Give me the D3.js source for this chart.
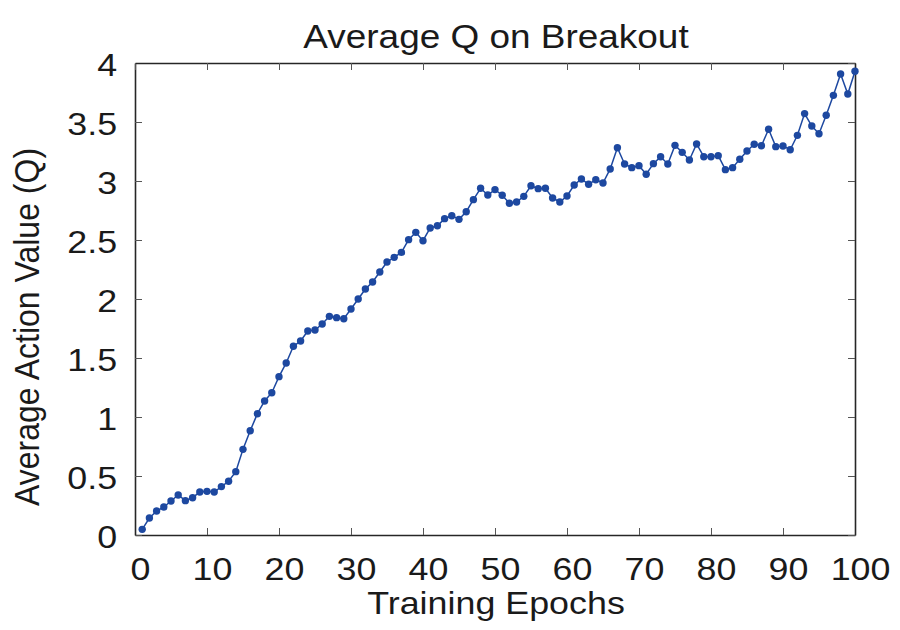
<!DOCTYPE html>
<html>
<head>
<meta charset="utf-8">
<script src="https://cdn.jsdelivr.net/npm/d3@7"></script>
<style>
  body { margin: 0; background: #fff; }
  text { font-family: "Liberation Sans", Arial, sans-serif; fill: #1a1a1a; }
</style>
</head>
<body>
<div id="chart"></div>
<script>
// average Q per training epoch (epochs 1..100)
var avgQ = [
    0.048, 0.144, 0.203, 0.237, 0.288, 0.339, 0.291, 0.316, 0.364, 0.370,
    0.364, 0.410, 0.455, 0.537, 0.726, 0.884, 1.028, 1.136, 1.206, 1.342,
    1.458, 1.599, 1.644, 1.729, 1.737, 1.788, 1.853, 1.842, 1.833, 1.915,
    2.000, 2.085, 2.144, 2.229, 2.314, 2.353, 2.395, 2.503, 2.565, 2.494,
    2.602, 2.621, 2.681, 2.706, 2.675, 2.740, 2.842, 2.938, 2.881, 2.927,
    2.879, 2.811, 2.822, 2.870, 2.960, 2.935, 2.938, 2.856, 2.822, 2.873,
    2.966, 3.017, 2.972, 3.011, 2.983, 3.102, 3.282, 3.144, 3.113, 3.130,
    3.057, 3.147, 3.206, 3.144, 3.302, 3.243, 3.178, 3.314, 3.206, 3.206,
    3.215, 3.096, 3.113, 3.184, 3.254, 3.311, 3.299, 3.438, 3.291, 3.297,
    3.265, 3.387, 3.571, 3.466, 3.401, 3.557, 3.726, 3.907, 3.737, 3.930
];
var epochs = d3.range(1, avgQ.length + 1);
var xTicks = [0, 10, 20, 30, 40, 50, 60, 70, 80, 90, 100];
var yTicks = [0, 0.5, 1, 1.5, 2, 2.5, 3, 3.5, 4];
var titleText = "Average Q on Breakout";
var xLabel = "Training Epochs";
var yLabel = "Average Action Value (Q)";

var W = 900, H = 630;
var m = {left: 135, right: 45, top: 63, bottom: 95};
var sx = 1.12; // the figure is a bit wider than tall in its glyphs
var blue = "#1d48a0";

var svg = d3.select("#chart").append("svg")
    .attr("width", W)
    .attr("height", H);

var x = d3.scaleLinear().domain([0, 100]).range([m.left, W - m.right]);
var y = d3.scaleLinear().domain([0, 4]).range([H - m.bottom, m.top]);

// axes, ticks pointing inward like matlab
function styleAxis(g) {
    g.select(".domain").attr("stroke", "#262626").attr("stroke-width", 1.6);
    g.selectAll(".tick line").attr("stroke", "#555").attr("stroke-width", 1);
}

var xAxis = svg.append("g")
    .attr("transform", "translate(0," + y(0) + ")")
    .call(d3.axisBottom(x).tickValues(xTicks).tickSize(-7).tickSizeOuter(0).tickFormat(d3.format("d")))
    .call(styleAxis);
xAxis.selectAll(".tick text")
    .attr("y", 45)
    .attr("dy", "0")
    .attr("x", 4.5)
    .attr("transform", "scale(" + sx + ",1)")
    .style("font-size", "32px")
    .attr("fill", "#1a1a1a");

var yAxis = svg.append("g")
    .attr("transform", "translate(" + x(0) + ",0)")
    .call(d3.axisLeft(y).tickValues(yTicks).tickSize(-7).tickSizeOuter(0).tickFormat(function (d) { return d; }))
    .call(styleAxis);
yAxis.selectAll(".tick text")
    .attr("x", -16)
    .attr("dy", "0.38em")
    .attr("transform", "scale(" + sx + ",1)")
    .style("font-size", "32px")
    .attr("fill", "#1a1a1a");

svg.append("g")
    .attr("transform", "translate(0," + y(4) + ")")
    .call(d3.axisTop(x).tickValues(xTicks).tickSize(-7).tickSizeOuter(0).tickFormat(""))
    .call(styleAxis);
svg.append("g")
    .attr("transform", "translate(" + x(100) + ",0)")
    .call(d3.axisRight(y).tickValues(yTicks).tickSize(-7).tickSizeOuter(0).tickFormat(""))
    .call(styleAxis);

// the series
var pts = epochs.map(function (e, i) { return [e, avgQ[i]]; });
var line = d3.line()
    .x(function (d) { return x(d[0]); })
    .y(function (d) { return y(d[1]); });

svg.append("path")
    .datum(pts)
    .attr("fill", "none")
    .attr("stroke", blue)
    .attr("stroke-width", 1.5)
    .attr("d", line);

svg.selectAll("circle.pt")
    .data(pts)
    .enter().append("circle")
    .attr("class", "pt")
    .attr("cx", function (d) { return x(d[0]); })
    .attr("cy", function (d) { return y(d[1]); })
    .attr("r", 3.7)
    .attr("fill", blue);

// title and labels
svg.append("text")
    .attr("transform", "translate(496,48) scale(" + sx + ",1)")
    .attr("text-anchor", "middle")
    .style("font-size", "33px")
    .text(titleText);

svg.append("text")
    .attr("transform", "translate(496,614) scale(" + sx + ",1)")
    .attr("text-anchor", "middle")
    .style("font-size", "32px")
    .text(xLabel);

svg.append("text")
    .attr("transform", "translate(39,327) scale(" + sx + ",1) rotate(-90)")
    .attr("text-anchor", "middle")
    .style("font-size", "32px")
    .text(yLabel);
</script>
</body>
</html>
